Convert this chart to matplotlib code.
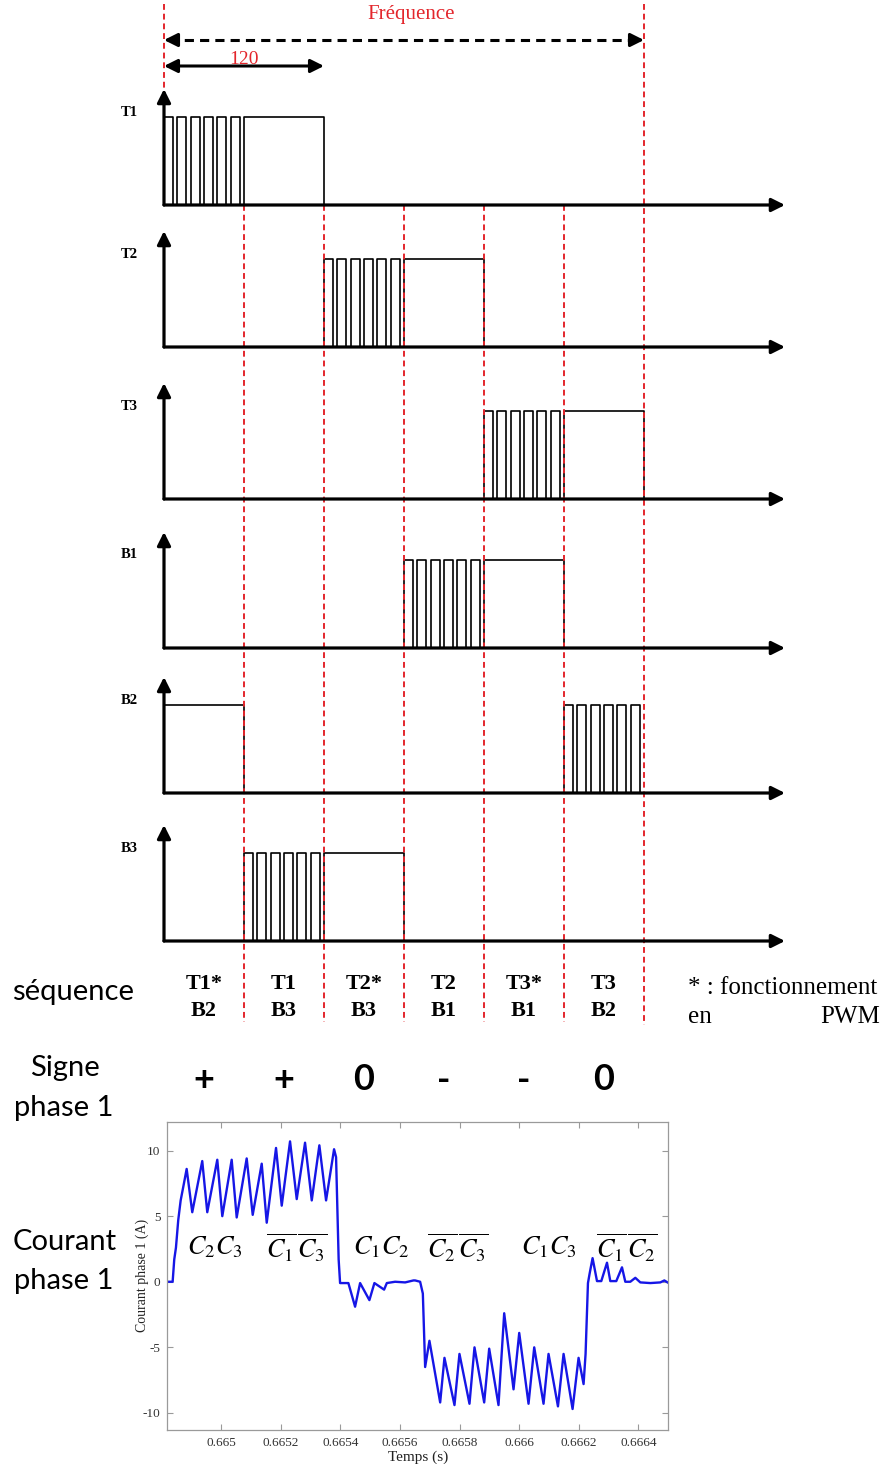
import numpy as np
import matplotlib.pyplot as plt

plt.rcParams["mathtext.fontset"] = "stix"
plt.rcParams["axes.unicode_minus"] = False

# ---------------- data ----------------
sector_edges = [0, 60, 120, 180, 240, 300, 360]   # degrees
channels = ["T1", "T2", "T3", "B1", "B2", "B3"]
pwm_sector = [0, 2, 4, 3, 5, 1]   # sector where the switch chops (PWM)
on_sector = [1, 3, 5, 4, 0, 2]    # sector where the switch is fully on
pulses_per_sector = 6
duty = 0.68

seq_top = ["T1*", "T1", "T2*", "T2", "T3*", "T3"]
seq_bot = ["B2", "B3", "B3", "B1", "B1", "B2"]
signs = ["+", "+", "0", "-", "-", "0"]

# phase 1 current
t_courant = [0.66482, 0.6648379, 0.6648433, 0.664849, 0.6648567, 0.6648648, 0.6648758,
             0.6648849, 0.6649037, 0.6649372, 0.664954, 0.6649876, 0.6650044, 0.6650359,
             0.6650527, 0.6650862, 0.6651064, 0.6651366, 0.6651534, 0.6651846, 0.6652037,
             0.6652316, 0.665254, 0.6652819, 0.6653044, 0.6653299, 0.6653524, 0.6653792,
             0.6653859, 0.6653946, 0.6653994, 0.6654272, 0.6654497, 0.6654665, 0.6654977,
             0.6655145, 0.665547, 0.6655561, 0.6655839, 0.6656175, 0.6656454, 0.665651,
             0.6656678, 0.6656769, 0.6656846, 0.665699, 0.665735, 0.6657494, 0.665783,
             0.6657997, 0.6658333, 0.6658501, 0.6658826, 0.6658994, 0.6659306, 0.6659497,
             0.665981, 0.6660001, 0.6660313, 0.6660504, 0.6660816, 0.6660984, 0.66613,
             0.6661488, 0.666179, 0.6661991, 0.6662159, 0.6662226, 0.6662306, 0.666236,
             0.6662461, 0.6662609, 0.6662753, 0.6662944, 0.6663055, 0.6663256, 0.6663447,
             0.6663558, 0.6663726, 0.6663894, 0.6664062, 0.6664397, 0.6664733, 0.6664867,
             0.6665012]
i_courant = [0.0, 0.0, 1.7, 2.6, 4.7, 6.2, 7.5,
             8.6, 5.3, 9.2, 5.3, 9.3, 5.0, 9.3,
             4.9, 9.4, 5.1, 9.0, 4.5, 10.2, 5.8,
             10.7, 6.3, 10.6, 6.2, 10.4, 6.2, 10.1,
             9.5, 1.7, -0.1, -0.1, -1.9, -0.1, -1.4,
             -0.1, -0.6, -0.1, 0.0, -0.05, 0.1, 0.1,
             0.0, -0.9, -6.5, -4.5, -9.2, -5.8, -9.4,
             -5.5, -9.3, -5.0, -9.2, -5.1, -9.4, -2.4,
             -8.2, -3.9, -9.3, -5.0, -9.3, -5.5, -9.5,
             -5.5, -9.7, -5.8, -7.8, -5.5, -0.1, 0.6,
             1.8, 0.05, 0.05, 1.45, 0.05, 0.05, 1.1,
             0.0, 0.0, 0.3, -0.05, -0.1, -0.05, 0.1,
             -0.1]

xtick_vals = [0.665, 0.6652, 0.6654, 0.6656, 0.6658, 0.666, 0.6662, 0.6664]
xtick_labels = ["0.665", "0.6652", "0.6654", "0.6656", "0.6658", "0.666", "0.6662", "0.6664"]
ytick_vals = [-10, -5, 0, 5, 10]

mode_labels = [r"$C_2C_3$", r"$\overline{C_1}\,\overline{C_3}$", r"$C_1C_2$",
               r"$\overline{C_2}\,\overline{C_3}$", r"$C_1C_3$", r"$\overline{C_1}\,\overline{C_2}$"]

# ---------------- layout ----------------
W, H = 885, 1464
x0_px = 164.0
px_per_deg = 80.0 / 60.0


def px2deg(px):
    return (px - x0_px) / px_per_deg


baselines = [205, 347, 499, 648, 793, 941]
pulse_h = 88
arrow_h = 116
red = "#e3262c"
serif = "Liberation Serif"
sans = "Lato"

fig = plt.figure(figsize=(W / 100, H / 100), dpi=100)
ax = fig.add_axes([0, 0, 1, 1])
ax.set_xlim(px2deg(0), px2deg(W))
ax.set_ylim(H, 0)
ax.axis("off")

x_end = px2deg(785)
step = 60.0 / pulses_per_sector

for k, name in enumerate(channels):
    b = baselines[k]
    p = pwm_sector[k]
    o = on_sector[k]
    highs = [(sector_edges[p] + j * step, sector_edges[p] + j * step + duty * step)
             for j in range(pulses_per_sector)]
    highs.append((sector_edges[o], sector_edges[o + 1]))
    xs, ys = [], []
    for s, e in highs:
        xs += [s, s, e, e, np.nan]
        ys += [b, b - pulse_h, b - pulse_h, b, np.nan]
    ax.plot(xs, ys, color="black", lw=1.2)
    # axes arrows
    ax.annotate("", xy=(x_end, b), xytext=(0, b),
                arrowprops=dict(arrowstyle="-|>", lw=2.3, color="black",
                                mutation_scale=20, shrinkA=0, shrinkB=0))
    ax.annotate("", xy=(0, b - arrow_h), xytext=(0, b),
                arrowprops=dict(arrowstyle="-|>", lw=2.3, color="black",
                                mutation_scale=20, shrinkA=0, shrinkB=0))
    ax.text(px2deg(129), b - pulse_h - 5, name, ha="center", va="center",
            fontsize=10.5, fontweight="bold", family=serif)

# red dashed sector lines
for e in sector_edges:
    if e == 0:
        y0, y1 = 4, 92
    elif e == 360:
        y0, y1 = 4, 1025
    else:
        y0, y1 = baselines[0], 1022
    ax.plot([e, e], [y0, y1], color=red, lw=1.4, ls=(0, (3, 2)))

# frequency arrow
yf = 40
ax.plot([4, 352], [yf, yf], color="black", lw=2.2, ls=(0, (3, 2)))
for tip, tail in [(0, 8), (360, 352)]:
    ax.annotate("", xy=(tip, yf), xytext=(tail, yf),
                arrowprops=dict(arrowstyle="-|>", lw=2.2, color="black",
                                mutation_scale=20, shrinkA=0, shrinkB=0))
ax.text(px2deg(411), 15, "Fréquence", color=red, ha="center", va="center",
        fontsize=15, family=serif)

# 120 arrow
y120 = 66
ax.annotate("", xy=(120, y120), xytext=(0, y120),
            arrowprops=dict(arrowstyle="<|-|>", lw=2.2, color="black",
                            mutation_scale=20, shrinkA=0, shrinkB=0))
ax.text(60, 60, "120", color=red, ha="center", va="center", fontsize=14, family=serif)

# sequence / sign rows
for k in range(6):
    xc = (sector_edges[k] + sector_edges[k + 1]) / 2
    ax.text(xc, 984, seq_top[k], ha="center", va="center", fontsize=16,
            fontweight="bold", family=serif)
    ax.text(xc, 1011, seq_bot[k], ha="center", va="center", fontsize=16,
            fontweight="bold", family=serif)
    ax.text(xc, 1080, signs[k], ha="center", va="center", fontsize=26,
            fontweight="bold", family=sans)

ax.text(px2deg(73), 992, "séquence", ha="center", va="center", fontsize=21, family=sans)
ax.text(px2deg(65), 1068, "Signe", ha="center", va="center", fontsize=21, family=sans)
ax.text(px2deg(64), 1108, "phase 1", ha="center", va="center", fontsize=21, family=sans)
ax.text(px2deg(65), 1242, "Courant", ha="center", va="center", fontsize=21, family=sans)
ax.text(px2deg(64), 1281, "phase 1", ha="center", va="center", fontsize=21, family=sans)

ax.text(px2deg(688), 988, "* : fonctionnement", ha="left", va="center", fontsize=18, family=serif)
ax.text(px2deg(688), 1017, "en", ha="left", va="center", fontsize=18, family=serif)
ax.text(px2deg(880), 1017, "PWM", ha="right", va="center", fontsize=18, family=serif)

# ---------------- current plot ----------------
left, right, top, bottom = 167.3, 668.3, 1121.7, 1430.0
axc = fig.add_axes([left / W, (H - bottom) / H, (right - left) / W, (bottom - top) / H])
axc.plot(t_courant, i_courant, color="#1616e6", lw=1.7, solid_joinstyle="round")
axc.set_xlim(0.66482, 0.6665)
axc.set_ylim(-11.3, 12.2)
axc.set_xticks(xtick_vals)
axc.set_xticklabels(xtick_labels)
axc.set_yticks(ytick_vals)
axc.tick_params(direction="in", top=True, right=True, length=4, width=0.8,
                color="#9a9a9a", labelcolor="#333333", labelsize=9.5, pad=5)
for lab in axc.get_xticklabels() + axc.get_yticklabels():
    lab.set_family(serif)
for sp in axc.spines.values():
    sp.set_color("#9a9a9a")
    sp.set_linewidth(0.9)
axc.set_xlabel("Temps (s)", family=serif, fontsize=11, color="#222222", labelpad=1)
axc.set_ylabel("Courant phase 1 (A)", family=serif, fontsize=10, color="#222222")
axc.yaxis.set_label_coords(-0.037, 0.5)

mode_t = [0.66498, 0.665252, 0.665537, 0.665795, 0.6661, 0.666359]
for lab, tc in zip(mode_labels, mode_t):
    axc.text(tc, 2.6, lab, ha="center", va="center", fontsize=19, color="black")

fig.savefig("out.png", dpi=100)
